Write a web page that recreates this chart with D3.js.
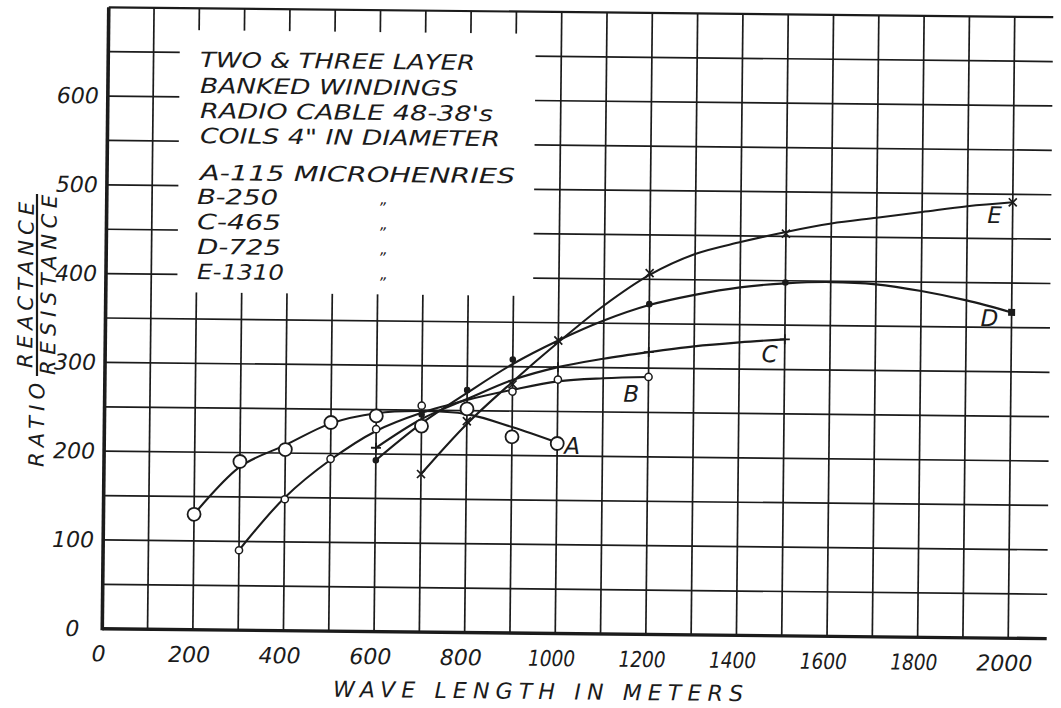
<!DOCTYPE html>
<html>
<head>
<meta charset="utf-8">
<script src="https://cdn.jsdelivr.net/npm/d3@7"></script>
<style>
  body { margin: 0; background: #fff; }
  svg text { font-family: "DejaVu Sans", sans-serif; font-style: italic; fill: #1b1b1b; }
</style>
</head>
<body>
<script>
// ---- values ----
var waveTicks  = [0, 200, 400, 600, 800, 1000, 1200, 1400, 1600, 1800, 2000];
var ratioTicks = [0, 100, 200, 300, 400, 500, 600];

var coilNames  = ["A", "B", "C", "D", "E"];
var coilMicroH = [115, 250, 465, 725, 1310];

// measured points
var aWave  = [200, 300, 400, 500, 600, 700, 800, 900, 1000];
var aRatio = [130, 190, 204, 235, 243, 232, 252, 221, 214];
var bWave  = [300, 400, 500, 600, 700, 900, 1000, 1200];
var bRatio = [90, 148, 194, 228, 255, 272, 286, 290];
var cWave  = [600, 1000, 1200, 1500];
var cRatio = [207, 300, 318, 334];
var dWave  = [600, 700, 800, 900, 1200, 1500, 2000];
var dRatio = [193, 245, 273, 308, 372, 398, 367];
var eWave  = [700, 800, 900, 1000, 1200, 1500, 2000];
var eRatio = [178, 238, 280, 330, 407, 453, 491];

// faired curves as drawn on the sheet
var aFitWave = [200, 300, 400, 500, 600, 700, 800, 900, 1000];
var aFit     = [130, 184, 209, 234, 246, 249, 246, 232, 215];
var bFitWave = [300, 400, 500, 600, 700, 800, 900, 1000, 1100, 1200];
var bFit     = [90, 150, 193, 226, 247, 262, 274, 284, 288, 290];
var cFitWave = [600, 700, 800, 900, 1000, 1100, 1200, 1300, 1400, 1500];
var cFit     = [207, 240, 263, 285, 300, 310, 318, 325, 330, 334];
var dFitWave = [600, 700, 800, 900, 1000, 1100, 1200, 1300, 1400, 1500, 1600, 1700, 1800, 1900, 2000];
var dFit     = [193, 235, 270, 303, 330, 353, 371, 383, 392, 397, 399, 397, 390, 380, 367];
var eFitWave = [700, 800, 900, 1000, 1100, 1200, 1300, 1400, 1500, 1600, 1700, 1800, 1900, 2000];
var eFit     = [178, 235, 283, 328, 370, 405, 429, 443, 455, 465, 472, 479, 486, 491];

var noteLines = ["TWO & THREE LAYER", "BANKED WINDINGS", "RADIO CABLE 48-38's", 'COILS 4" IN DIAMETER'];
var unitWord  = "MICROHENRIES";
var xTitle    = "WAVE LENGTH IN METERS";
var yTitle    = ["RATIO", "REACTANCE", "RESISTANCE"];

// ---- layout ----
var W = 1061, H = 708;
var tilt = 0.6, cx = 558, cy = 322;   // the scanned sheet sits slightly askew
var ink = "#1b1b1b";

var svg = d3.select("body").append("svg").attr("width", W).attr("height", H);
svg.append("rect").attr("width", W).attr("height", H).attr("fill", "#fff");
var g = svg.append("g").attr("transform", "rotate(" + tilt + "," + cx + "," + cy + ")");

// page position -> position inside the tilted group
function flat(px, py) {
  var a = tilt * Math.PI / 180, dx = px - cx, dy = py - cy;
  return [cx + dx * Math.cos(a) + dy * Math.sin(a), cy - dx * Math.sin(a) + dy * Math.cos(a)];
}

var x = d3.scaleLinear().domain([0, 2000]).range([105.5, 1011.5]);
var y = d3.scaleLinear().domain([0, 700]).range([633.5, 12]);
var xEnd = 2085;

// grid
g.selectAll(".vline").data(d3.range(100, 2001, 100)).enter().append("line")
  .attr("x1", function(d){ return x(d); }).attr("x2", function(d){ return x(d); })
  .attr("y1", y(0)).attr("y2", y(700))
  .attr("stroke", ink).attr("stroke-width", 1.7);
g.selectAll(".hline").data(d3.range(50, 701, 50)).enter().append("line")
  .attr("x1", x(0)).attr("x2", x(xEnd))
  .attr("y1", function(d){ return y(d); }).attr("y2", function(d){ return y(d); })
  .attr("stroke", ink).attr("stroke-width", function(d){ return d === 700 ? 2.2 : 1.7; });

// white panel carrying the notes
var p1 = flat(180, 30), p2 = flat(533, 296);
g.append("rect").attr("x", p1[0]).attr("y", p1[1])
  .attr("width", p2[0] - p1[0]).attr("height", p2[1] - p1[1]).attr("fill", "#fff");

// heavy axes
g.append("line").attr("x1", x(0)).attr("x2", x(xEnd)).attr("y1", y(0)).attr("y2", y(0))
  .attr("stroke", ink).attr("stroke-width", 3.4);
g.append("line").attr("x1", x(0)).attr("x2", x(0)).attr("y1", y(0) + 1.5).attr("y2", y(700))
  .attr("stroke", ink).attr("stroke-width", 3.6);

// tick labels
var xAxis = d3.axisBottom(x).tickValues(waveTicks).tickSize(0).tickPadding(17).tickFormat(d3.format("d"));
var gx = g.append("g").attr("transform", "translate(0," + y(0) + ")").call(xAxis);
gx.select(".domain").remove();
gx.attr("font-size", 22);
gx.selectAll("text").attr("dx", -4)
  .attr("textLength", function(d){ var s = String(d); return (s.length === 4 && s[0] === "1") ? 47 : null; })
  .attr("lengthAdjust", "spacingAndGlyphs");

var yAxis = d3.axisLeft(y).tickValues(ratioTicks).tickSize(0).tickPadding(9).tickFormat(d3.format("d"));
var gy = g.append("g").attr("transform", "translate(" + x(0) + ",0)").call(yAxis);
gy.select(".domain").remove();
gy.attr("font-size", 22);
gy.selectAll("text").attr("dx", function(d){ return d === 0 ? -14 : 0; });

// axis titles
var xt = flat(538, 699);
g.append("text").attr("x", xt[0]).attr("y", xt[1]).attr("text-anchor", "middle")
  .attr("font-size", 22).attr("textLength", 410).attr("lengthAdjust", "spacing")
  .text(xTitle);

var yPos = [[44, 425, 84], [33, 285, 166], [56, 285, 180]];
yTitle.forEach(function(t, i) {
  var p = flat(yPos[i][0], yPos[i][1]);
  g.append("text").attr("transform", "translate(" + p[0] + "," + p[1] + ") rotate(-90)")
    .attr("text-anchor", "middle").attr("font-size", 21)
    .attr("textLength", yPos[i][2]).attr("lengthAdjust", "spacing")
    .text(t);
});
var b1 = flat(37, 194), b2 = flat(37, 376);
g.append("line").attr("x1", b1[0]).attr("y1", b1[1]).attr("x2", b2[0]).attr("y2", b2[1])
  .attr("stroke", ink).attr("stroke-width", 2.2);

// notes panel text
var noteBase = [67, 93, 118, 143], noteLen = [275, 258, 293, 300];
noteLines.forEach(function(t, i) {
  var p = flat(200, noteBase[i]);
  g.append("text").attr("x", p[0]).attr("y", p[1]).attr("font-size", 21)
    .attr("textLength", noteLen[i]).attr("lengthAdjust", "spacingAndGlyphs").text(t);
});
var keyBase = [180, 204, 229, 254, 279], keyLen = [315, 81, 84, 84, 87];
coilNames.forEach(function(n, i) {
  var p = flat(i === 0 ? 200 : 197, keyBase[i]);
  var label = n + "-" + coilMicroH[i] + (i === 0 ? " " + unitWord : "");
  g.append("text").attr("x", p[0]).attr("y", p[1]).attr("font-size", 21)
    .attr("textLength", keyLen[i]).attr("lengthAdjust", "spacingAndGlyphs").text(label);
  if (i > 0) {
    var q = flat(384, keyBase[i]);
    g.append("text").attr("x", q[0]).attr("y", q[1]).attr("text-anchor", "middle")
      .attr("font-size", 15).text("\u201E");
  }
});

// curves
var series = [
  { name: "A", wave: aWave, ratio: aRatio, fw: aFitWave, fit: aFit, mark: "ring",  off: [15, 3] },
  { name: "B", wave: bWave, ratio: bRatio, fw: bFitWave, fit: bFit, mark: "small", off: [-17, 17] },
  { name: "C", wave: cWave, ratio: cRatio, fw: cFitWave, fit: cFit, mark: "plus",  off: [-15, 15] },
  { name: "D", wave: dWave, ratio: dRatio, fw: dFitWave, fit: dFit, mark: "dot",   off: [-22, 6] },
  { name: "E", wave: eWave, ratio: eRatio, fw: eFitWave, fit: eFit, mark: "cross", off: [-18, 13] }
];

var line = d3.line()
  .x(function(d){ return x(d[0]); })
  .y(function(d){ return y(d[1]); })
  .curve(d3.curveCatmullRom.alpha(0.5));

series.forEach(function(s) {
  var pts = s.fw.map(function(w, i){ return [w, s.fit[i]]; });
  g.append("path").attr("d", line(pts)).attr("fill", "none")
    .attr("stroke", ink).attr("stroke-width", 2.1);
});

series.forEach(function(s) {
  var pts = s.wave.map(function(w, i){ return [w, s.ratio[i]]; });
  var mg = g.append("g");
  pts.forEach(function(p, i) {
    var px = x(p[0]), py = y(p[1]);
    if (s.mark === "ring") {
      mg.append("circle").attr("cx", px).attr("cy", py).attr("r", 6.5)
        .attr("fill", "#fff").attr("stroke", ink).attr("stroke-width", 1.8);
    } else if (s.mark === "small") {
      mg.append("circle").attr("cx", px).attr("cy", py).attr("r", 3.6)
        .attr("fill", "#fff").attr("stroke", ink).attr("stroke-width", 1.5);
    } else if (s.mark === "plus") {
      mg.append("path").attr("d", "M" + (px - 5) + "," + py + "H" + (px + 5) + "M" + px + "," + (py - 5) + "V" + (py + 5))
        .attr("stroke", ink).attr("stroke-width", 1.8);
    } else if (s.mark === "dot") {
      if (i === pts.length - 1) {
        mg.append("rect").attr("x", px - 3.5).attr("y", py - 3.5).attr("width", 7).attr("height", 7).attr("fill", ink);
      } else {
        mg.append("circle").attr("cx", px).attr("cy", py).attr("r", 3.3).attr("fill", ink);
      }
    } else {
      mg.append("path").attr("d", "M" + (px - 4) + "," + (py - 4) + "L" + (px + 4) + "," + (py + 4) + "M" + (px - 4) + "," + (py + 4) + "L" + (px + 4) + "," + (py - 4))
        .attr("stroke", ink).attr("stroke-width", 1.7);
    }
  });
  var last = s.fw.length - 1;
  g.append("text")
    .attr("x", x(s.fw[last]) + s.off[0]).attr("y", y(s.fit[last]) + s.off[1])
    .attr("text-anchor", "middle").attr("dominant-baseline", "central")
    .attr("font-size", 23).text(s.name);
});
</script>
</body>
</html>
